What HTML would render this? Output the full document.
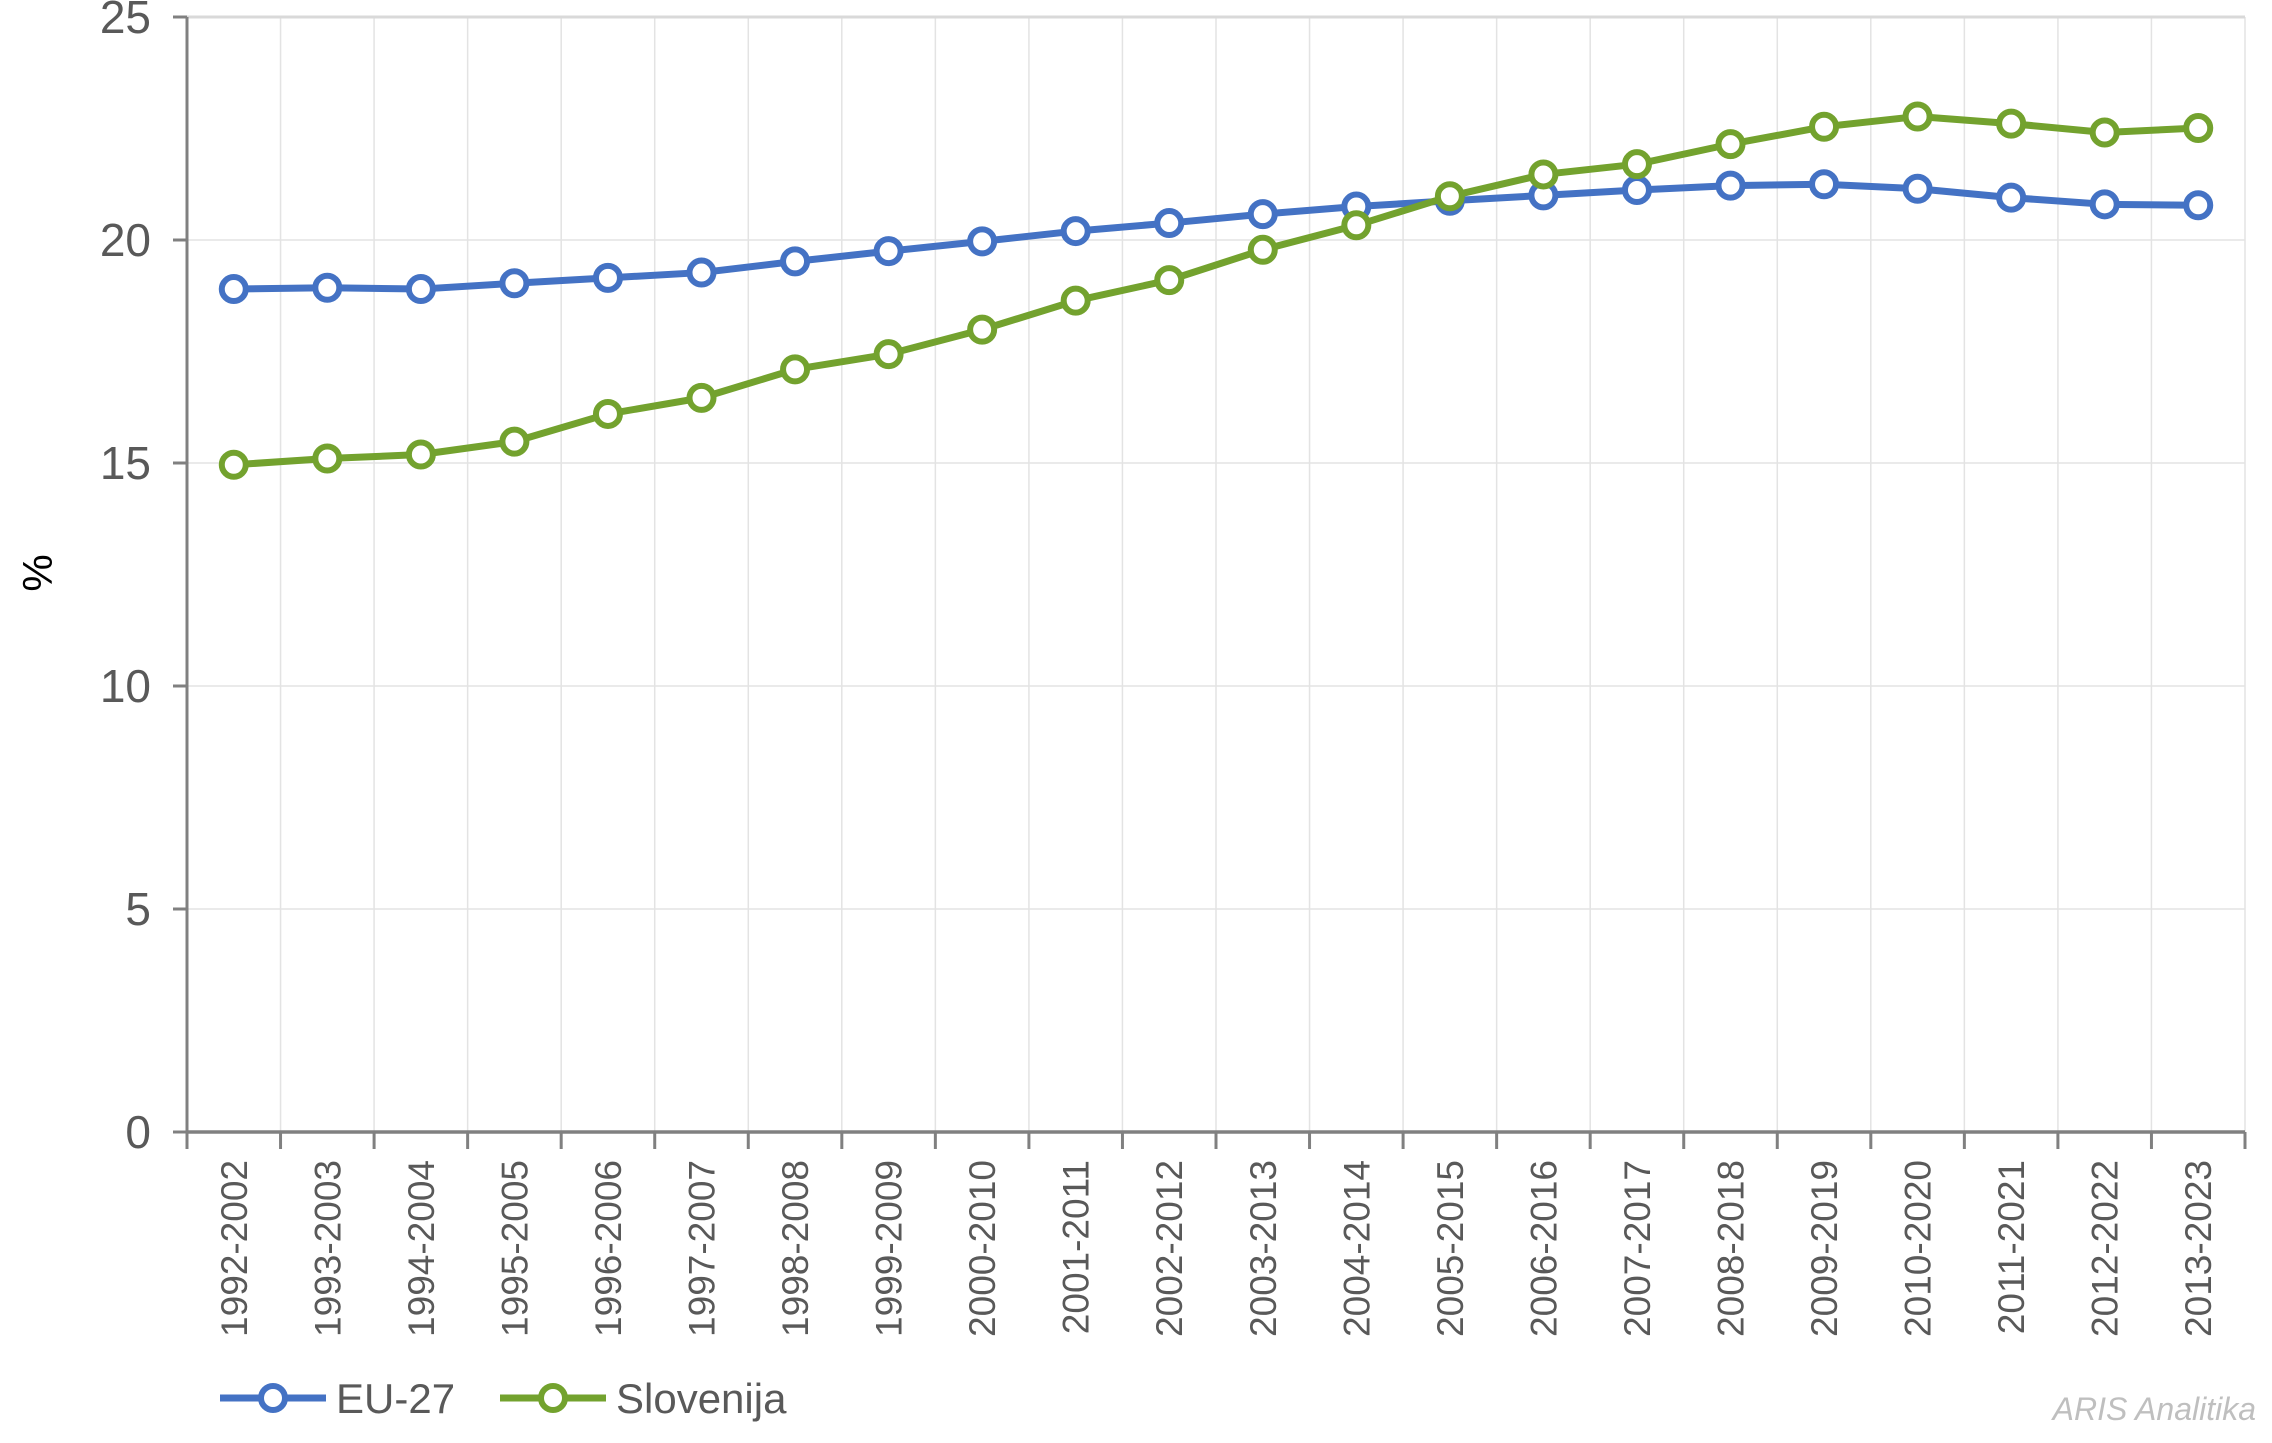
<!DOCTYPE html>
<html><head><meta charset="utf-8"><style>
html,body{margin:0;padding:0;background:#fff;}
svg{display:block;font-family:"Liberation Sans",sans-serif;}
</style></head><body>
<svg id="chart" width="2272" height="1443" viewBox="0 0 2272 1443"></svg>
<script>
const categories=["1992-2002","1993-2003","1994-2004","1995-2005","1996-2006","1997-2007","1998-2008","1999-2009","2000-2010","2001-2011","2002-2012","2003-2013","2004-2014","2005-2015","2006-2016","2007-2017","2008-2018","2009-2019","2010-2020","2011-2021","2012-2022","2013-2023"];
const euValues=[18.9,18.93,18.9,19.03,19.15,19.27,19.52,19.75,19.97,20.2,20.38,20.58,20.75,20.88,21.0,21.12,21.22,21.25,21.15,20.95,20.8,20.78];
const siValues=[14.96,15.1,15.19,15.48,16.1,16.46,17.1,17.44,17.99,18.64,19.1,19.78,20.33,20.98,21.47,21.7,22.15,22.54,22.77,22.61,22.41,22.51];
const yTicks=[0,5,10,15,20,25];
const seriesNames=["EU-27","Slovenija"];

const NS="http://www.w3.org/2000/svg";
const svg=document.getElementById('chart');
const L=187,R=2245,T=17,B=1132;
const band=(R-L)/categories.length;
const x=i=>L+band*(i+0.5);
const y=v=>B-(v/25)*(B-T);
function mk(tag,attrs,parent){const e=document.createElementNS(NS,tag);for(const k in attrs)e.setAttribute(k,attrs[k]);(parent||svg).appendChild(e);return e;}

for(let i=1;i<=categories.length;i++){const g=mk('line',{x1:L+band*i,x2:L+band*i,y1:T,y2:B,stroke:'#e3e3e3','stroke-width':1.5});
}
yTicks.forEach(t=>{if(t>0){const g=mk('line',{x1:L,x2:R,y1:y(t),y2:y(t),stroke:t==25?'#d9d9d9':'#e3e3e3','stroke-width':t==25?3:1.5});
}
const tk=mk('line',{x1:L-14,x2:L,y1:y(t),y2:y(t),stroke:'#808080','stroke-width':3});

const lb=mk('text',{x:L-36,y:y(t)+16,'text-anchor':'end','font-size':46,fill:'#595959'});lb.textContent=t;
});
const ya=mk('line',{x1:L,x2:L,y1:T,y2:B,stroke:'#808080','stroke-width':3});

const xa=mk('line',{x1:L,x2:R,y1:B,y2:B,stroke:'#808080','stroke-width':3.5});

for(let i=0;i<=categories.length;i++){const tk=mk('line',{x1:L+band*i,x2:L+band*i,y1:B,y2:B+17,stroke:'#808080','stroke-width':3});
}
categories.forEach((c,i)=>{const t=mk('text',{transform:`translate(${x(i)+13},1160) rotate(-90)`,'text-anchor':'end','font-size':37,fill:'#595959'});t.textContent=c;
});
const yt=mk('text',{transform:'translate(52,573) rotate(-90)','text-anchor':'middle','font-size':42,fill:'#000'});yt.textContent='%';


function series(vals,color,name){
const g=mk('g',{});
const p=mk('polyline',{points:vals.map((v,i)=>x(i)+','+y(v)).join(' '),fill:'none',stroke:color,'stroke-width':7,'stroke-linejoin':'round'},g);

vals.forEach((v,i)=>{const c=mk('circle',{cx:x(i),cy:y(v),r:12,fill:'#fff',stroke:color,'stroke-width':6},g);
});}
series(euValues,'#4472C4','eu-27');
series(siValues,'#73A22E','slovenija');

[[220,'#4472C4',seriesNames[0]],[500,'#73A22E',seriesNames[1]]].forEach(([lx,col,nm])=>{
const g=mk('g',{});
mk('line',{x1:lx,x2:lx+106,y1:1398,y2:1398,stroke:col,'stroke-width':7},g);
mk('circle',{cx:lx+53,cy:1398,r:12,fill:'#fff',stroke:col,'stroke-width':6},g);
const t=mk('text',{x:lx+116,y:1413,'font-size':42,fill:'#595959'},g);t.textContent=nm;});
const w=mk('text',{x:2256,y:1420,'text-anchor':'end','font-size':32,'font-style':'italic',fill:'#bfbfbf'});w.textContent='ARIS Analitika';

</script>
</body></html>
